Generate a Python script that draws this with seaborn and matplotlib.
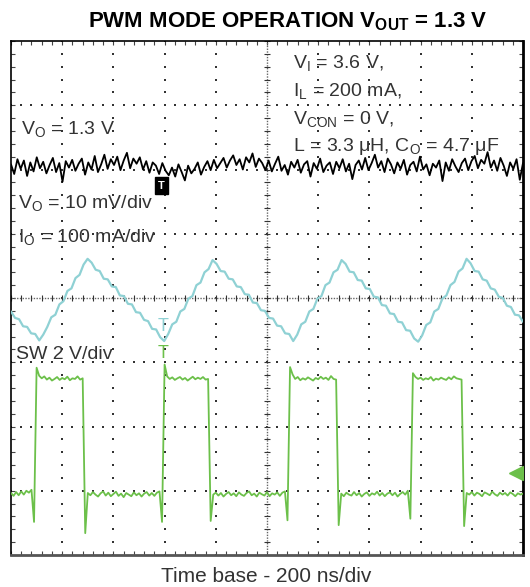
import numpy as np
import matplotlib
matplotlib.use('Agg')
import matplotlib.pyplot as plt
import seaborn as sns

# scope settings
time_per_div = 200   # ns/div
vo_per_div = 10      # mV/div
io_per_div = 100     # mA/div
sw_per_div = 2       # V/div
trigger_ns = 594

# output voltage ripple (mV, AC coupled), sampled uniformly over 2000 ns
vo_ripple_mv = [
    0.3, -1.2, 1.1, -0.4, 0.9, -1.5, 0.6, -0.8, 1.4, -0.3,
    0.7, -1.1, 0.2, 1.3, -0.9, 0.5, -2.4, 0.8, -0.2, 1.0,
    -0.7, 0.4, 1.2, -1.3, 0.6, -0.5, 1.6, -0.9, 0.3, 1.8,
    -0.4, 1.1, 0.2, 1.5, -0.6, 0.9, 2.1, -0.3, 1.2, 0.4,
    1.4, -0.5, 0.8, -1.0, 0.6, 0.1, -1.2, 0.5, -0.7, -1.4,
    -0.2, -1.6, 0.3, -0.9, -2.2, 0.1, -1.1, -0.4, 0.6, -1.3,
    -0.1, 0.8, -0.6, 1.0, -0.3, 0.5, 1.3, -0.2, 0.9, 1.7,
    0.2, 1.1, -0.5, 1.4, 0.6, 2.0, -0.1, 1.2, 0.5, -0.6,
    0.9, -0.8, 0.4, 1.5, -0.7, 0.2, -1.3, 0.7, -0.2, 1.0,
    -1.0, 0.3, 0.8, -1.6, 0.5, -0.4, 1.2, -0.9, 0.1, 0.6,
    -1.2, 0.7, -0.3, 1.1, -0.8, 0.4, -2.0, 0.2, 0.9, -0.5,
    1.3, -0.6, 0.5, 1.8, -0.2, 0.8, -0.9, 1.2, 0.3, -1.1,
    0.6, -0.4, 1.0, -1.3, 0.2, 0.7, -0.8, 1.5, -0.5, 0.3,
    -1.4, 0.4, -0.2, 0.9, -2.3, 0.6, -0.7, 1.1, 0.0, -0.9,
    0.5, 1.2, -0.6, 0.8, 1.6, -0.3, 1.0, 0.4, 2.2, -0.2,
    0.9, -0.7, 1.3, 0.1, -1.5, 0.6, -0.4, 1.1, -2.1, 0.5,
]

# inductor / output current ripple (mA), sampled uniformly over 2000 ns
io_ripple_ma = [
    -21, -31, -33, -44, -45, -55, -56, -66,
    -57, -45, -30, -26, -10, -5, 11, 15, 31, 36, 52, 61,
    55, 44, 42, 30, 29, 18, 17, 4, 3, -9, -10, -22, -23, -34, -36, -48, -49, -61, -67,
    -56, -41, -37, -21, -17, -1, 3, 20, 24, 40, 45, 59,
    53, 42, 41, 30, 29, 18, 17, 6, 5, -7, -8, -19, -20, -31, -32, -43, -44, -55, -56, -67,
    -57, -41, -37, -21, -17, -1, 3, 20, 24, 40, 44, 59,
    53, 41, 40, 28, 27, 15, 14, 2, 1, -11, -12, -24, -25, -37, -38, -50, -51, -63, -68,
    -58, -42, -38, -21, -17, -1, 4, 20, 25, 41, 46, 61,
    54, 42, 41, 29, 27, 15, 13, 2, 0, -12, -14, -26, -27, -37,
]

# switch node voltage (V), sampled every 10 ns
sw_volts = [
    0.05, -0.04, 0.08, -0.02, 0.1, 0.0, 0.12, 0.06, 0.15,
    -0.85, 3.95,
    3.7, 3.62, 3.68, 3.58, 3.64, 3.55, 3.6, 3.66, 3.57, 3.63, 3.59, 3.67, 3.56, 3.62, 3.6, 3.68, 3.58,
    3.62, -1.2,
    0.05, -0.02, 0.08, 0.0, -0.06, 0.04, 0.1, -0.03, 0.06, -0.05, 0.02, 0.09, -0.04, 0.03, -0.08,
    0.05, 0.0, -0.05, 0.07, -0.02, 0.04, -0.06, 0.03, 0.08, -0.03, 0.05, -0.04, 0.06, 0.1,
    -0.85, 4.05,
    3.68, 3.6, 3.65, 3.57, 3.62, 3.66, 3.58, 3.63, 3.55, 3.61, 3.67, 3.59, 3.64, 3.6, 3.66, 3.58,
    3.6, -0.82,
    0.0, 0.06, -0.03, 0.05, -0.06, 0.02, 0.08, -0.02, 0.04, -0.05, 0.07, 0.0, -0.04, 0.05, 0.1,
    -0.02, 0.03, -0.06, 0.06, 0.01, -0.03, 0.08, -0.05, 0.04, 0.0, 0.07, -0.04, 0.06, 0.1,
    -0.8, 3.97,
    3.74, 3.6, 3.66, 3.56, 3.62, 3.58, 3.65, 3.6, 3.55, 3.63, 3.59, 3.67, 3.6, 3.64, 3.57, 3.69, 3.6,
    3.58, -0.95,
    0.03, -0.05, 0.06, 0.0, -0.03, 0.08, -0.02, 0.05, -0.06, 0.02, 0.07, -0.04, 0.04, 0.0,
    0.09, -0.03, 0.05, -0.05, 0.03, 0.07, -0.02, 0.06, -0.06, 0.02, 0.08, 0.0, 0.12,
    -0.75, 3.78,
    3.66, 3.6, 3.64, 3.57, 3.62, 3.59, 3.66, 3.55, 3.61, 3.58, 3.64, 3.6, 3.57, 3.65, 3.59, 3.68, 3.62, 3.6,
    3.58, -0.98,
    0.05, 0.0, 0.08, -0.03, 0.06, 0.02, -0.05, 0.07, 0.03, -0.02, 0.09, 0.01, -0.04, 0.06,
    0.0, 0.05, -0.03, 0.07, 0.02, -0.05, 0.04, 0.0, 0.03,
]

# channel positions on the screen (div)
VO_POS = 2.05
IO_POS = 0.0
SW_POS = -3.06

CYAN = '#8fd1d4'
GREEN = '#6cc04a'
W, H = 530, 587


def px(x, y):
    return x / W, 1 - y / H


sns.set_style('white')
plt.rcParams['font.family'] = ['Liberation Sans', 'DejaVu Sans']
plt.rcParams['mathtext.fontset'] = 'custom'
plt.rcParams['mathtext.rm'] = 'Liberation Sans'
plt.rcParams['mathtext.it'] = 'Liberation Sans:italic'
plt.rcParams['mathtext.bf'] = 'Liberation Sans:bold'
plt.rcParams['mathtext.default'] = 'regular'

fig = plt.figure(figsize=(5.3, 5.87), dpi=100)
ax = fig.add_axes([11 / W, 1 - 555 / H, 512 / W, 514 / H])
ax.set_xlim(0, 10)
ax.set_ylim(-4, 4)

# scope graticule
minor_x = np.arange(0, 10.01, 0.2)
minor_y = np.arange(-4, 4.01, 0.2)
for k in range(1, 10):
    if k != 5:
        ax.scatter(np.full_like(minor_y, k), minor_y, s=1.6, marker='s', color='#333', linewidths=0, zorder=1)
for j in range(-3, 4):
    if j != 0:
        ax.scatter(minor_x, np.full_like(minor_x, j), s=1.6, marker='s', color='#333', linewidths=0, zorder=1)
ax.axvline(5, color='#666', lw=1, ls=(0, (1, 1)), zorder=1)
ax.axhline(0, color='#666', lw=1, ls=(0, (1, 1)), zorder=1)
ax.scatter(minor_x, np.zeros_like(minor_x), marker='|', s=20, color='#333', linewidths=0.8, zorder=1)
ax.scatter(np.full_like(minor_y, 5), minor_y, marker='_', s=20, color='#333', linewidths=0.8, zorder=1)

ax.set_xticks(np.arange(0, 11, 1))
ax.set_xticks(minor_x, minor=True)
ax.set_yticks(np.arange(-4, 5, 1))
ax.set_yticks(minor_y, minor=True)
ax.tick_params(which='both', direction='in', top=True, right=True, bottom=True, left=True,
               labelbottom=False, labelleft=False, length=3, width=0.8, colors='#444')
for side in ['left', 'top']:
    ax.spines[side].set_color('black')
    ax.spines[side].set_linewidth(1.2)
ax.spines['right'].set_color('black')
ax.spines['right'].set_linewidth(2)
ax.spines['bottom'].set_color('#555')
ax.spines['bottom'].set_linewidth(2)

# traces
t_vo = np.linspace(0, 2000, len(vo_ripple_mv)) / time_per_div
t_io = np.linspace(0, 2000, len(io_ripple_ma)) / time_per_div
t_sw = np.linspace(0, 2000, len(sw_volts)) / time_per_div
sns.lineplot(x=t_io, y=IO_POS + np.array(io_ripple_ma) / io_per_div, color=CYAN, lw=1.6, ax=ax, errorbar=None, zorder=3)
sns.lineplot(x=t_sw, y=SW_POS + np.array(sw_volts) / sw_per_div, color=GREEN, lw=1.3, ax=ax, errorbar=None, zorder=3)
sns.lineplot(x=t_vo, y=VO_POS + np.array(vo_ripple_mv) / vo_per_div, color='black', lw=1.3, ax=ax, errorbar=None, zorder=4)

# trigger / channel markers
trig_x = trigger_ns / time_per_div
ax.text(trig_x - 0.03, 1.75, 'T', color='white', fontsize=8, fontweight='bold', ha='center', va='center',
        bbox=dict(boxstyle='square,pad=0.3', fc='black', ec='black'), zorder=5)
ax.text(trig_x, -0.45, 'T', color=CYAN, fontsize=13, ha='center', va='center', zorder=5)
ax.text(trig_x, -0.86, 'T', color=GREEN, fontsize=13, ha='center', va='center', zorder=5)
ax.plot([9.85, 10], [-2.73, -2.73], color=GREEN, lw=2.2, zorder=5)
ax.plot([9.86], [-2.73], marker='<', ms=10, color=GREEN, zorder=5)

# annotations
lab = dict(fontsize=14, color='#333333', va='baseline', ha='left')
fig.text(*px(288, 27), r'PWM MODE OPERATION V$_{\mathbf{OUT}}$ = 1.3 V', ha='center', va='baseline',
         fontsize=16, fontweight='bold', color='black')
fig.text(*px(293, 68), r'V$_I$ = 3.6 V,', **lab)
fig.text(*px(293, 96), r'I$_L$ = 200 mA,', **lab)
fig.text(*px(293, 124), r'V$_{CON}$ = 0 V,', **lab)
fig.text(*px(293, 151), r'L = 3.3 μH, C$_O$ = 4.7 μF', **lab)
fig.text(*px(21, 134), r'V$_O$ = 1.3 V', **lab)
fig.text(*px(18, 208), r'V$_O$ = 10 mV/div', **lab)
fig.text(*px(18, 242), r'I$_O$ = 100 mA/div', **lab)
fig.text(*px(16, 359), 'SW 2 V/div', **lab)
fig.text(*px(266, 582), 'Time base - 200 ns/div', ha='center', va='baseline', fontsize=15, color='#333333')

fig.savefig('out.png', dpi=100)
